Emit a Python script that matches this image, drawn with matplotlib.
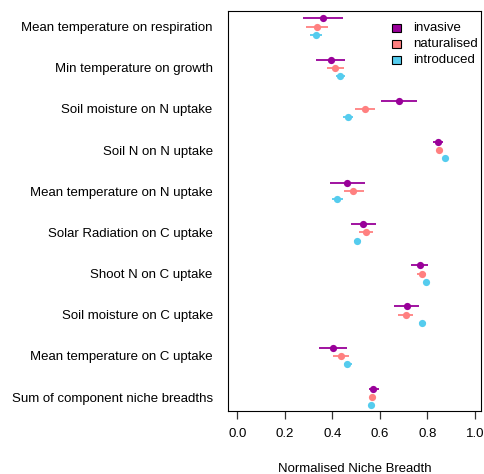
import matplotlib
matplotlib.use("Agg")
import matplotlib.pyplot as plt
from matplotlib.patches import Rectangle
import numpy as np

plt.rcParams['font.family'] = ['Liberation Sans', 'DejaVu Sans']

categories = [
    "Mean temperature on respiration",
    "Min temperature on growth",
    "Soil moisture on N uptake",
    "Soil N on N uptake",
    "Mean temperature on N uptake",
    "Solar Radiation on C uptake",
    "Shoot N on C uptake",
    "Soil moisture on C uptake",
    "Mean temperature on C uptake",
    "Sum of component niche breadths",
]

groups = ["invasive", "naturalised", "introduced"]
colors = {"invasive": "#990099", "naturalised": "#FF8080", "introduced": "#55CCEE"}

invasive_mean = [0.362, 0.394, 0.680, 0.844, 0.462, 0.530, 0.767, 0.713, 0.401, 0.572]
invasive_lo   = [0.278, 0.332, 0.606, 0.825, 0.389, 0.478, 0.732, 0.658, 0.344, 0.554]
invasive_hi   = [0.446, 0.453, 0.756, 0.864, 0.539, 0.583, 0.804, 0.766, 0.462, 0.594]

naturalised_mean = [0.334, 0.412, 0.536, 0.850, 0.488, 0.543, 0.776, 0.708, 0.438, 0.565]
naturalised_lo   = [0.288, 0.379, 0.494, 0.843, 0.448, 0.513, 0.756, 0.676, 0.404, 0.558]
naturalised_hi   = [0.383, 0.449, 0.578, 0.857, 0.532, 0.572, 0.795, 0.740, 0.471, 0.572]

introduced_mean = [0.331, 0.432, 0.464, 0.874, 0.418, 0.504, 0.793, 0.778, 0.463, 0.564]
introduced_lo   = [0.307, 0.415, 0.443, 0.870, 0.397, 0.490, 0.786, 0.763, 0.448, 0.560]
introduced_hi   = [0.356, 0.452, 0.487, 0.878, 0.443, 0.519, 0.800, 0.795, 0.481, 0.568]

data = {
    "invasive": (invasive_mean, invasive_lo, invasive_hi),
    "naturalised": (naturalised_mean, naturalised_lo, naturalised_hi),
    "introduced": (introduced_mean, introduced_lo, introduced_hi),
}
offsets = {"invasive": 0.2, "naturalised": 0.0, "introduced": -0.2}

xticks = [0.0, 0.2, 0.4, 0.6, 0.8, 1.0]
xtick_labels = ["0.0", "0.2", "0.4", "0.6", "0.8", "1.0"]

fig = plt.figure(figsize=(4.84, 4.74), dpi=100)
ax = fig.add_axes([228/484, 63/474, 253/484, 400/474])

base = -np.arange(len(categories))
for g in groups:
    m, lo, hi = (np.array(a) for a in data[g])
    y = base + offsets[g]
    ax.errorbar(m, y, xerr=[m - lo, hi - m], fmt='o', color=colors[g],
                ms=5.2, elinewidth=1.3, capsize=3.2, capthick=1.3, mew=0)

# legend (manual, in axes fraction)
leg_y = [0.957, 0.917, 0.877]
for g, yy in zip(groups, leg_y):
    ax.add_patch(Rectangle((0.648, yy - 0.0105), 0.036, 0.021, transform=ax.transAxes,
                           facecolor=colors[g], edgecolor='black', lw=0.8, clip_on=False))
    ax.text(0.731, yy, g, transform=ax.transAxes, fontsize=9.5, va='center', ha='left')

ax.set_xlim(-0.039, 1.025)
ax.set_ylim(-9.34, 0.38)
ax.set_yticks(base)
ax.set_yticklabels(categories, fontsize=9.5)
ax.tick_params(axis='y', length=0, pad=11)
ax.set_xticks(xticks)
ax.set_xticklabels(xtick_labels, fontsize=9.5)
ax.tick_params(axis='x', length=5.5, width=0.9, pad=7, color='#333333')
ax.set_xlabel("Normalised Niche Breadth", fontsize=9.45, labelpad=16)
for s in ax.spines.values():
    s.set_linewidth(0.8)

fig.savefig("out.png", dpi=100)
